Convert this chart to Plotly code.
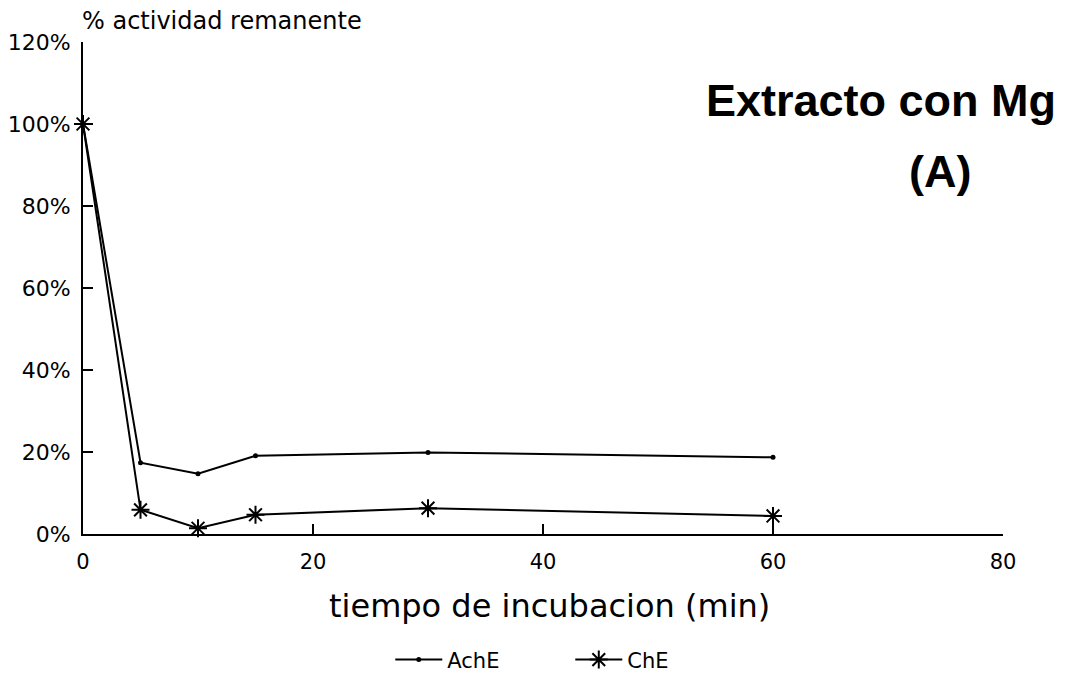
import plotly.graph_objects as go

# Data
time_min = [0, 5, 10, 15, 30, 60]
ache = [100, 17.4, 14.7, 19.1, 19.9, 18.7]
che = [100, 5.9, 1.4, 4.7, 6.3, 4.4]

x_ticks = [0, 20, 40, 60, 80]
y_ticks = [0, 20, 40, 60, 80, 100, 120]
y_ticktext = ["0%", "20%", "40%", "60%", "80%", "100%", "120%"]

FONT = "DejaVu Sans"

fig = go.Figure()
fig.add_trace(go.Scatter(
    x=time_min, y=ache, name="AchE", mode="lines+markers",
    line=dict(color="black", width=2),
    marker=dict(symbol="circle", size=5, color="black"),
    cliponaxis=False,
))
fig.add_trace(go.Scatter(
    x=time_min, y=che, name="ChE", mode="lines+markers",
    line=dict(color="black", width=2),
    marker=dict(symbol="asterisk-open", size=15, color="black",
                line=dict(color="black", width=2)),
    cliponaxis=False,
))

fig.update_layout(
    width=1072, height=680,
    margin=dict(l=83, r=69, t=42, b=146, autoexpand=False),
    paper_bgcolor="white", plot_bgcolor="white",
    font=dict(family=FONT, color="black"),
    showlegend=True,
    legend=dict(orientation="h", x=0.334, xanchor="left", y=-0.256, yanchor="middle",
                font=dict(family=FONT, size=21, color="black"),
                itemwidth=47, entrywidth=118, traceorder="normal",
                bgcolor="rgba(0,0,0,0)"),
    xaxis=dict(range=[0, 80], tickvals=x_ticks, ticks="inside", ticklen=10,
               tickwidth=2, tickcolor="black", showline=True, linecolor="black",
               linewidth=2, showgrid=False, zeroline=False,
               tickfont=dict(family=FONT, size=21, color="black"),
               ticklabelstandoff=8),
    yaxis=dict(range=[0, 120], tickvals=y_ticks, ticktext=y_ticktext,
               ticks="inside", ticklen=10, tickwidth=2, tickcolor="black",
               showline=True, linecolor="black", linewidth=2, showgrid=False,
               zeroline=False, tickfont=dict(family=FONT, size=22, color="black"),
               ticklabelstandoff=6),
    annotations=[
        dict(text="% actividad remanente", xref="paper", yref="paper",
             x=-0.003, y=1.043, xanchor="left", yanchor="middle", showarrow=False,
             font=dict(family=FONT, size=24, color="black")),
        dict(text="tiempo de incubacion (min)", xref="paper", yref="paper",
             x=0.507, y=-0.146, xanchor="center", yanchor="middle", showarrow=False,
             font=dict(family=FONT, size=32, color="black")),
        dict(text="<b>Extracto con Mg</b>", xref="paper", yref="paper",
             x=1.06, y=0.882, xanchor="right", yanchor="middle", showarrow=False,
             font=dict(family="Liberation Sans", size=45, color="black")),
        dict(text="<b>(A)</b>", xref="paper", yref="paper",
             x=0.931, y=0.736, xanchor="center", yanchor="middle", showarrow=False,
             font=dict(family="Liberation Sans", size=45, color="black")),
    ],
)

fig.write_html("out.html")
